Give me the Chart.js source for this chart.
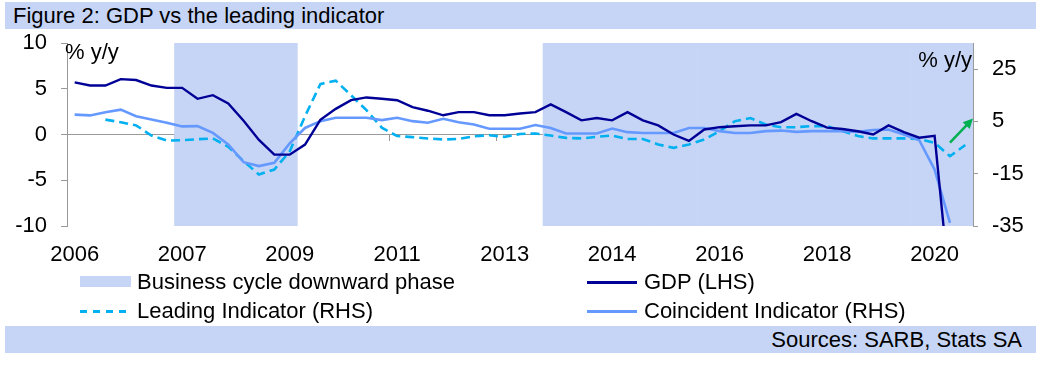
<!DOCTYPE html>
<html>
<head>
<meta charset="utf-8">
<title>Figure 2: GDP vs the leading indicator</title>
<script src="https://cdn.jsdelivr.net/npm/chart.js@4.4.1/dist/chart.umd.min.js"></script>
<style>
  html, body { margin: 0; padding: 0; background: #fff; }
  body { width: 1045px; height: 374px; position: relative; overflow: hidden;
         font-family: "Liberation Sans", Arial, sans-serif; color: #000; }
  #chart { position: absolute; left: 0; top: 0; }
  .strip { position: absolute; left: 5px; width: 1031px; height: 27px; background: #c6d5f5;
           font-size: 22px; line-height: 27px; box-sizing: border-box; white-space: nowrap; }
  #title { top: 2px; padding-left: 8px; }
  #source { top: 326px; text-align: right; padding-right: 14px; }
  .leg { position: absolute; font-size: 22px; line-height: 24px; white-space: nowrap; }
  .sw { position: absolute; }
</style>
</head>
<body>
<canvas id="chart" width="1045" height="374"></canvas>
<div class="strip" id="title">Figure 2: GDP vs the leading indicator</div>
<div id="legend"></div>
<div class="strip" id="source">Sources: SARB, Stats SA</div>

<script>
// quarterly, 2006Q1 - 2020Q3
const quarters = [
  '2006Q1', '2006Q2', '2006Q3', '2006Q4',
  '2007Q1', '2007Q2', '2007Q3', '2007Q4',
  '2008Q1', '2008Q2', '2008Q3', '2008Q4',
  '2009Q1', '2009Q2', '2009Q3', '2009Q4',
  '2010Q1', '2010Q2', '2010Q3', '2010Q4',
  '2011Q1', '2011Q2', '2011Q3', '2011Q4',
  '2012Q1', '2012Q2', '2012Q3', '2012Q4',
  '2013Q1', '2013Q2', '2013Q3', '2013Q4',
  '2014Q1', '2014Q2', '2014Q3', '2014Q4',
  '2015Q1', '2015Q2', '2015Q3', '2015Q4',
  '2016Q1', '2016Q2', '2016Q3', '2016Q4',
  '2017Q1', '2017Q2', '2017Q3', '2017Q4',
  '2018Q1', '2018Q2', '2018Q3', '2018Q4',
  '2019Q1', '2019Q2', '2019Q3', '2019Q4',
  '2020Q1', '2020Q2', '2020Q3'
];

// GDP % y/y (LHS)
const gdp = [
  5.7, 5.35, 5.35, 6.05, 5.95, 5.35, 5.1, 5.1,
  3.9, 4.3, 3.4, 1.5, -0.6, -2.2, -2.2, -1.1,
  1.6, 2.8, 3.75, 4.05, 3.9, 3.75, 3.0, 2.6,
  2.1, 2.45, 2.45, 2.1, 2.1, 2.3, 2.45, 3.3,
  2.45, 1.55, 1.8, 1.55, 2.45, 1.55, 1.0, 0.0,
  -0.7, 0.55, 0.8, 0.9, 1.0, 1.0, 1.35, 2.25,
  1.45, 0.75, 0.6, 0.35, 0.0, 1.0, 0.25, -0.35,
  -0.15, -17.1, null
];

// Leading indicator % y/y (RHS)
const leading = [
  null, null, 5.7, 4.7, 3.5, -0.4, -2.3, -2.2,
  -1.8, -1.5, -4.7, -10.2, -15.3, -13.4, -6.5, 7.0,
  19.3, 20.6, 15.0, 9.3, 2.6, -0.6, -1.0, -1.5,
  -1.9, -1.7, -0.7, -0.3, -0.9, 0.2, 0.4, -0.4,
  -1.3, -1.5, -0.9, -0.4, -1.7, -1.7, -3.8, -5.1,
  -3.8, -1.9, 1.3, 5.1, 6.3, 3.8, 2.8, 2.8,
  3.2, 3.2, 1.3, -0.6, -1.5, -1.5, -1.5, -1.7,
  -3.2, -8.3, -4.0
];

// Coincident indicator % y/y (RHS)
const coincident = [
  7.6, 7.3, 8.5, 9.5, 7.0, 5.7, 4.5, 3.1,
  3.2, 0.6, -3.8, -10.6, -12.1, -10.8, -3.4, 2.5,
  5.1, 6.4, 6.4, 6.4, 5.5, 6.4, 5.1, 4.5,
  6.0, 4.7, 3.8, 2.2, 2.2, 2.2, 3.6, 2.5,
  0.4, 0.4, 0.4, 2.3, 0.9, 0.6, 0.6, 0.6,
  2.5, 2.5, 1.3, 0.6, 0.6, 1.3, 1.5, 1.0,
  1.3, 1.3, 1.3, 1.0, 1.7, 1.9, 0.0, -2.2,
  -13.4, -33.8, null
];

// business cycle downward phases (first and last quarter)
const downPhases = [
  ['2007Q4', '2009Q3'],
  ['2013Q4', '2020Q3']
];

const lhsTicks = [-10, -5, 0, 5, 10];
const rhsTicks = [-35, -15, 5, 25];
const labelEvery = 7;

// green recovery arrow, in (quarter index, LHS value)
const arrowFrom = [57, -0.9];
const arrowTo = [58.5, 1.75];

const bandColor = '#c6d5f5';
const axisGrey = '#999999';

const inPhase = quarters.map(q => downPhases.some(p => q >= p[0] && q <= p[1]));
const bandData = inPhase.map(on => on ? [lhsTicks[0], lhsTicks[lhsTicks.length - 1]] : null);

const tickFont = { family: '"Liberation Sans", Arial, sans-serif', size: 22 };

const extras = {
  id: 'extras',
  afterDatasetsDraw(chart) {
    const { ctx, scales } = chart;
    const x0 = scales.x.getPixelForValue(arrowFrom[0]);
    const y0 = scales.y.getPixelForValue(arrowFrom[1]);
    const x1 = scales.x.getPixelForValue(arrowTo[0]);
    const y1 = scales.y.getPixelForValue(arrowTo[1]);
    const ang = Math.atan2(y1 - y0, x1 - x0);
    const head = 11;
    ctx.save();
    ctx.strokeStyle = '#00b050';
    ctx.fillStyle = '#00b050';
    ctx.lineWidth = 2.5;
    ctx.beginPath();
    ctx.moveTo(x0, y0);
    ctx.lineTo(x1 - Math.cos(ang) * head * 0.8, y1 - Math.sin(ang) * head * 0.8);
    ctx.stroke();
    ctx.beginPath();
    ctx.moveTo(x1, y1);
    ctx.lineTo(x1 - head * Math.cos(ang - 0.45), y1 - head * Math.sin(ang - 0.45));
    ctx.lineTo(x1 - head * Math.cos(ang + 0.45), y1 - head * Math.sin(ang + 0.45));
    ctx.closePath();
    ctx.fill();
    ctx.restore();
  },
  afterDraw(chart) {
    const { ctx, chartArea } = chart;
    ctx.save();
    ctx.font = '22px "Liberation Sans", Arial, sans-serif';
    ctx.fillStyle = '#000';
    ctx.textBaseline = 'middle';
    ctx.textAlign = 'left';
    ctx.fillText('% y/y', chartArea.left - 2, chartArea.top + 10);
    ctx.textAlign = 'right';
    ctx.fillText('% y/y', chartArea.right - 1, chartArea.top + 18);
    ctx.restore();
  }
};

const chart = new Chart(document.getElementById('chart'), {
  type: 'line',
  data: {
    labels: quarters,
    datasets: [
      {
        label: 'GDP (LHS)',
        data: gdp,
        yAxisID: 'y',
        borderColor: '#000096',
        borderWidth: 2.4,
        pointRadius: 0,
        tension: 0,
        fill: false,
        order: 1
      },
      {
        label: 'Coincident Indicator (RHS)',
        data: coincident,
        yAxisID: 'y1',
        borderColor: '#6699ff',
        borderWidth: 2.6,
        pointRadius: 0,
        tension: 0,
        fill: false,
        order: 2
      },
      {
        label: 'Leading Indicator (RHS)',
        data: leading,
        yAxisID: 'y1',
        borderColor: '#00b0f0',
        borderWidth: 2.6,
        borderDash: [9, 5],
        pointRadius: 0,
        tension: 0,
        fill: false,
        order: 3
      },
      {
        type: 'bar',
        label: 'Business cycle downward phase',
        data: bandData,
        yAxisID: 'y',
        backgroundColor: bandColor,
        borderWidth: 0,
        barPercentage: 1,
        categoryPercentage: 1,
        order: 10
      }
    ]
  },
  options: {
    responsive: false,
    animation: false,
    layout: { padding: { top: 43, left: 0, right: 0, bottom: 0 } },
    plugins: {
      legend: { display: false },
      tooltip: { enabled: false }
    },
    scales: {
      x: {
        type: 'category',
        position: 'bottom',
        offset: true,
        grid: { display: false, offset: true },
        border: { display: false },
        ticks: {
          autoSkip: false,
          maxRotation: 0,
          padding: 8,
          color: '#000',
          font: tickFont,
          callback: (v, i) => i % labelEvery === 0 ? quarters[i].slice(0, 4) : ''
        },
        afterFit: s => { s.height = 148; }
      },
      xZero: {
        type: 'category',
        position: { y: 0 },
        offset: true,
        z: 1,
        grid: {
          offset: true,
          drawOnChartArea: false,
          drawTicks: true,
          tickLength: 6,
          lineWidth: 1,
          color: c => c.index % labelEvery === 0 ? axisGrey : 'rgba(0,0,0,0)'
        },
        border: { color: axisGrey, width: 1 },
        ticks: { display: false, autoSkip: false }
      },
      y: {
        position: 'left',
        min: lhsTicks[0],
        max: lhsTicks[lhsTicks.length - 1],
        z: 1,
        afterBuildTicks: s => { s.ticks = lhsTicks.map(v => ({ value: v })); },
        ticks: { padding: 14, color: '#000', font: tickFont },
        grid: { drawOnChartArea: false, tickLength: 6, color: axisGrey },
        border: { color: axisGrey, width: 1 },
        afterFit: s => { s.width = 67; }
      },
      y1: {
        position: 'right',
        min: -35,
        max: 35,
        z: 1,
        afterBuildTicks: s => { s.ticks = rhsTicks.map(v => ({ value: v })); },
        ticks: { padding: 14, color: '#000', font: tickFont },
        grid: { drawOnChartArea: false, tickLength: 5, color: axisGrey },
        border: { color: axisGrey, width: 1 },
        afterFit: s => { s.width = 72; }
      }
    }
  },
  plugins: [extras]
});

// html legend, laid out in two columns like the original
const legendSpots = {
  'Business cycle downward phase': [80, 282],
  'Leading Indicator (RHS)': [80, 311],
  'GDP (LHS)': [587, 282],
  'Coincident Indicator (RHS)': [587, 311]
};
const legend = document.getElementById('legend');
chart.data.datasets.forEach(ds => {
  const [lx, ly] = legendSpots[ds.label];
  const sw = document.createElement('div');
  sw.className = 'sw';
  if (ds.type === 'bar') {
    sw.style.cssText = `left:${lx}px;top:${ly - 6}px;width:51px;height:11px;background:${ds.backgroundColor};`;
  } else if (ds.borderDash) {
    sw.style.cssText = `left:${lx}px;top:${ly - 1}px;width:46px;height:3px;` +
      `background:repeating-linear-gradient(to right, ${ds.borderColor} 0 7px, transparent 7px 13px);`;
  } else {
    sw.style.cssText = `left:${lx}px;top:${ly - 1}px;width:50px;height:3px;background:${ds.borderColor};`;
  }
  legend.appendChild(sw);
  const tx = document.createElement('div');
  tx.className = 'leg';
  tx.style.left = (lx + 57) + 'px';
  tx.style.top = (ly - 12) + 'px';
  tx.textContent = ds.label;
  legend.appendChild(tx);
});
</script>
</body>
</html>
